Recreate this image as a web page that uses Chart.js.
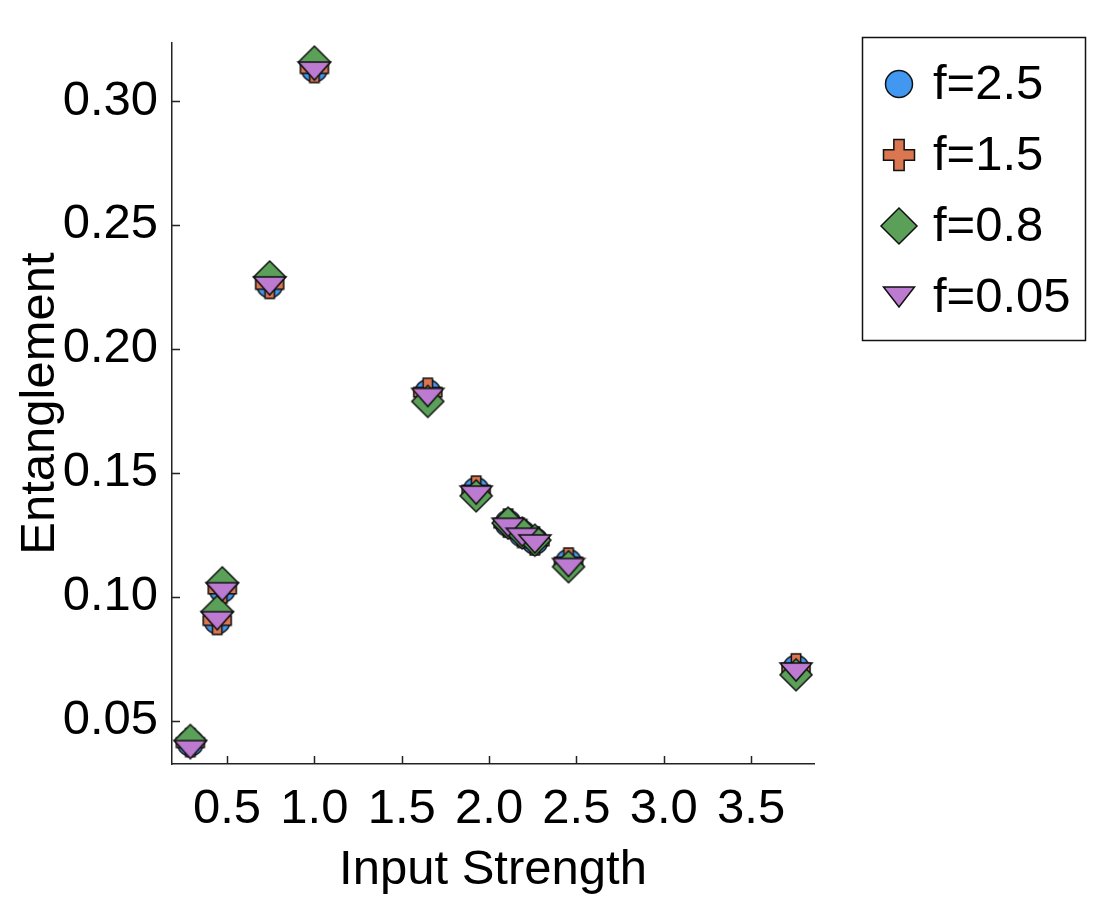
<!DOCTYPE html>
<html>
<head>
<meta charset="utf-8">
<script src="https://cdn.jsdelivr.net/npm/chart.js@4"></script>
<style>
  html, body { margin: 0; padding: 0; background: #fff; }
  #wrap { width: 1094px; height: 906px; }
</style>
</head>
<body>
<div id="wrap"><canvas id="chart" width="1094" height="906"></canvas></div>
<script>
// values
const inputStrength = [0.29, 0.444, 0.473, 0.744, 1.0, 1.649, 1.926, 2.109, 2.19, 2.262, 2.455, 3.757];
const entF25  = [0.0410, 0.0903, 0.1030, 0.2259, 0.3130, 0.1823, 0.1428, 0.1296, 0.1254, 0.1224, 0.1138, 0.0711];
const entF15  = [0.0411, 0.0904, 0.1031, 0.2260, 0.3131, 0.1825, 0.1430, 0.1297, 0.1255, 0.1225, 0.1140, 0.0713];
const entF08  = [0.0420, 0.0940, 0.1056, 0.2290, 0.3157, 0.1788, 0.1407, 0.1297, 0.1257, 0.1228, 0.1121, 0.0685];
const entF005 = [0.0383, 0.0903, 0.1020, 0.2254, 0.3121, 0.1804, 0.1410, 0.1280, 0.1240, 0.1213, 0.1118, 0.0696];
const seriesLabels = ['f=2.5', 'f=1.5', 'f=0.8', 'f=0.05'];
const xTicks = [0.5, 1.0, 1.5, 2.0, 2.5, 3.0, 3.5];
const yTicks = [0.05, 0.10, 0.15, 0.20, 0.25, 0.30];

const colors = {
    blue: 'rgb(66, 152, 240)',
    orange: 'rgb(218, 118, 80)',
    green: 'rgb(90, 160, 88)',
    purple: 'rgb(188, 122, 208)',
    edge: '#111',
    axis: '#222'
};
const fontFamily = '"Liberation Sans", Helvetica, Arial, sans-serif';
const bigFont = { family: fontFamily, size: 49, lineHeight: 1.2 };

// marker shapes: circle, plus, diamond, down triangle
function markerPath(ctx, shape, cx, cy, w, h) {
    ctx.beginPath();
    if (shape === 'circle') {
        ctx.arc(cx, cy, w, 0, Math.PI * 2);
    } else if (shape === 'plus') {
        const a = w / 3;
        ctx.moveTo(cx - a, cy - h); ctx.lineTo(cx + a, cy - h); ctx.lineTo(cx + a, cy - a);
        ctx.lineTo(cx + w, cy - a); ctx.lineTo(cx + w, cy + a); ctx.lineTo(cx + a, cy + a);
        ctx.lineTo(cx + a, cy + h); ctx.lineTo(cx - a, cy + h); ctx.lineTo(cx - a, cy + a);
        ctx.lineTo(cx - w, cy + a); ctx.lineTo(cx - w, cy - a); ctx.lineTo(cx - a, cy - a);
    } else if (shape === 'diamond') {
        ctx.moveTo(cx, cy - h); ctx.lineTo(cx + w, cy); ctx.lineTo(cx, cy + h); ctx.lineTo(cx - w, cy);
    } else {
        ctx.moveTo(cx - w, cy - h); ctx.lineTo(cx + w, cy - h); ctx.lineTo(cx, cy + h);
    }
    ctx.closePath();
}

function drawMarker(ctx, shape, cx, cy, w, h, fill) {
    markerPath(ctx, shape, cx, cy, w, h);
    ctx.fillStyle = fill;
    ctx.fill();
    ctx.lineWidth = 1.5;
    ctx.strokeStyle = colors.edge;
    ctx.lineJoin = 'miter';
    ctx.stroke();
}

function makeMarker(shape, w, h, fill) {
    const c = document.createElement('canvas');
    c.width = Math.ceil(2 * w + 4);
    c.height = Math.ceil(2 * h + 4);
    drawMarker(c.getContext('2d'), shape, c.width / 2, c.height / 2, w, h, fill);
    return c;
}

const series = [
    { label: seriesLabels[0], values: entF25,  shape: 'circle',  color: colors.blue,   size: [13, 13],   legendSize: [13.5, 13.5] },
    { label: seriesLabels[1], values: entF15,  shape: 'plus',    color: colors.orange, size: [14, 14],   legendSize: [15.5, 15.5] },
    { label: seriesLabels[2], values: entF08,  shape: 'diamond', color: colors.green,  size: [16, 16],   legendSize: [18, 18] },
    { label: seriesLabels[3], values: entF005, shape: 'dtri',    color: colors.purple, size: [16, 9],    legendSize: [15.5, 10] }
];

const innerTicks = {
    id: 'innerTicks',
    beforeDatasetsDraw(chart) {
        const { ctx, chartArea: a, scales: { x, y } } = chart;
        ctx.save();
        ctx.strokeStyle = colors.axis;
        ctx.lineWidth = 1.5;
        ctx.beginPath();
        xTicks.forEach(v => {
            const px = Math.round(x.getPixelForValue(v)) + 0.5;
            ctx.moveTo(px, a.bottom); ctx.lineTo(px, a.bottom - 8);
        });
        yTicks.forEach(v => {
            const py = Math.round(y.getPixelForValue(v)) + 0.5;
            ctx.moveTo(a.left, py); ctx.lineTo(a.left + 8, py);
        });
        ctx.stroke();
        ctx.restore();
    }
};

const boxedLegend = {
    id: 'boxedLegend',
    afterDraw(chart) {
        const ctx = chart.ctx;
        ctx.save();
        ctx.fillStyle = '#fff';
        ctx.fillRect(862, 37, 224, 304);
        ctx.strokeStyle = colors.edge;
        ctx.lineWidth = 1.5;
        ctx.strokeRect(862.5, 37.5, 223, 303);
        series.forEach((s, i) => {
            const cy = 84 + i * 71;
            drawMarker(ctx, s.shape, 899, cy, s.legendSize[0], s.legendSize[1], s.color);
            ctx.fillStyle = '#000';
            ctx.font = '49px ' + fontFamily;
            ctx.textBaseline = 'middle';
            ctx.textAlign = 'left';
            ctx.fillText(s.label, 933, cy + 1);
        });
        ctx.restore();
    }
};

new Chart(document.getElementById('chart'), {
    type: 'scatter',
    data: {
        datasets: series.map((s, i) => ({
            label: s.label,
            data: inputStrength.map((x, j) => ({ x: x, y: s.values[j] })),
            pointStyle: makeMarker(s.shape, s.size[0], s.size[1], s.color),
            pointRadius: 16,
            pointHoverRadius: 16,
            order: series.length - i
        }))
    },
    options: {
        responsive: false,
        animation: false,
        devicePixelRatio: 1,
        layout: { padding: { top: 43, right: 280, bottom: 0, left: 0 } },
        plugins: { legend: { display: false }, tooltip: { enabled: false } },
        scales: {
            x: {
                type: 'linear',
                min: 0.185,
                max: 3.86,
                afterBuildTicks: sc => { sc.ticks = xTicks.map(v => ({ value: v })); },
                afterFit: sc => { sc.height = 142; },
                grid: { display: false },
                border: { display: true, color: colors.axis, width: 1.5 },
                ticks: { font: bigFont, color: '#000', padding: 8, maxRotation: 0, autoSkip: false, callback: v => Number(v).toFixed(1) },
                title: { display: true, text: 'Input Strength', font: bigFont, color: '#000', padding: { top: 0, bottom: 6 } }
            },
            y: {
                type: 'linear',
                min: 0.0325,
                max: 0.3234,
                afterBuildTicks: sc => { sc.ticks = yTicks.map(v => ({ value: v })); },
                afterFit: sc => { sc.width = 172; },
                grid: { display: false },
                border: { display: true, color: colors.axis, width: 1.5 },
                ticks: { font: bigFont, color: '#000', padding: 6, autoSkip: false, callback: v => Number(v).toFixed(2) },
                title: { display: true, text: 'Entanglement', font: bigFont, color: '#000', padding: { top: 11, bottom: 0 } }
            }
        }
    },
    plugins: [innerTicks, boxedLegend]
});
</script>
</body>
</html>
